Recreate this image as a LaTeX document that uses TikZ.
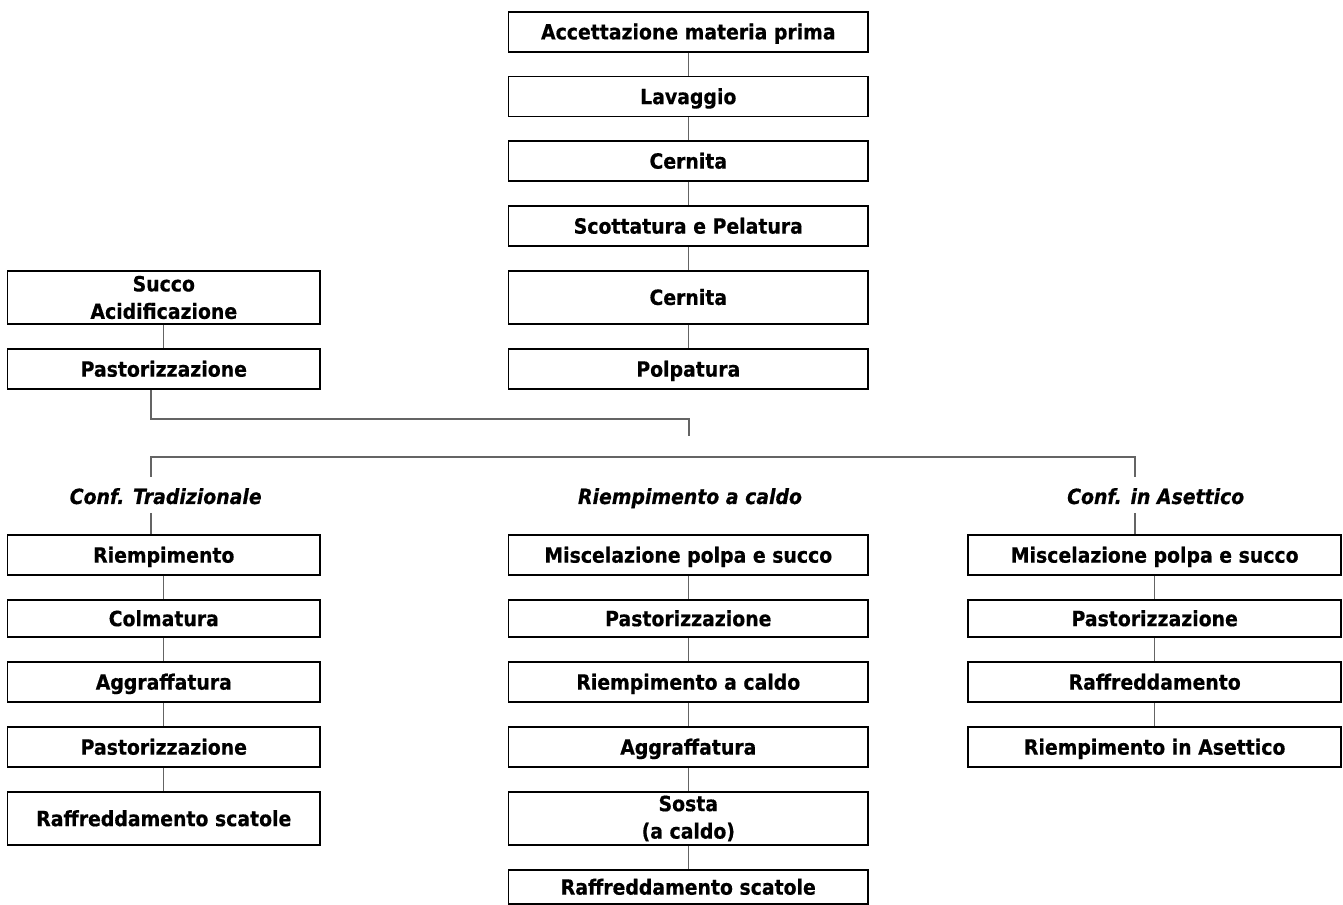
\documentclass[tikz,border=0pt]{standalone}
\usepackage{fontspec}
\setmainfont{DejaVu Sans}[FakeStretch=0.9,
  BoldFeatures={FakeBold=0.5},
  BoldItalicFeatures={FakeBold=0.5}]
\begin{document}
\definecolor{linkgray}{RGB}{100,100,100}
\begin{tikzpicture}[x=0.025cm,y=-0.025cm,
  box/.style={draw=black,line width=1.4pt,rectangle,inner sep=0pt,align=center,
    font=\fontsize{14.9}{19.5}\selectfont\bfseries},
  one/.style={text height=10.9pt,text depth=0pt},
  colL/.style={box,minimum width=7.8125cm},
  colC/.style={box,minimum width=8.9875cm},
  colR/.style={box,minimum width=9.3125cm},
  hA/.style={minimum height=1cm},
  hB/.style={minimum height=0.925cm},
  hC/.style={minimum height=1.325cm},
  hD/.style={minimum height=0.85cm},
  lab/.style={anchor=base,inner sep=0pt,font=\fontsize{14.9}{19.5}\selectfont\bfseries\itshape},
  link/.style={draw=linkgray,line width=0.75pt}]
\useasboundingbox (0,0) rectangle (1343,905);

% main line: raw material to pulping
\node[colC,hA,one] (a1) at (688.3,31.75) {Accettazione materia prima};
\node[colC,hA,one] (a2) at (688.3,96.5) {Lavaggio};
\node[colC,hA,one] (a3) at (688.3,161) {Cernita};
\node[colC,hA,one] (a4) at (688.3,226) {Scottatura e Pelatura};
\node[colC,hC,one] (a5) at (688.3,297.25) {Cernita};
\node[colC,hA,one] (a6) at (688.3,369) {Polpatura};
\foreach \u/\v in {a1/a2,a2/a3,a3/a4,a4/a5,a5/a6}
  \draw[link] (\u.south) -- (\v.north);

% juice line
\node[colL,hC] (s1) at (163.8,297.5) {Succo\\Acidificazione};
\node[colL,hA,one] (s2) at (163.8,369) {Pastorizzazione};
\draw[link] (s1.south) -- (s2.north);

% junction buses
\coordinate (k1) at (689,419);
\coordinate (k2) at (689,436);
\draw[link] ([xshift=-0.32cm]s2.south) |- (k1) -- (k2);
\coordinate (bL) at (151,477);
\coordinate (b1) at (151,457);
\coordinate (b2) at (1135,457);
\coordinate (bR) at (1135,477);
\draw[link] (bL) -- (b1) -- (b2) -- (bR);

% branch titles
\node[lab] (t1) at (165.7,504) {Conf. Tradizionale};
\node[lab] (t2) at (690,504) {Riempimento a caldo};
\node[lab] (t3) at (1155.7,504) {Conf. in Asettico};
\coordinate (u1) at (151,513);
\coordinate (u3) at (1135,513);

% traditional packing
\node[colL,hA,one] (l1) at (163.8,555) {Riempimento};
\node[colL,hB,one] (l2) at (163.8,618.5) {Colmatura};
\node[colL,hA,one] (l3) at (163.8,682) {Aggraffatura};
\node[colL,hA,one] (l4) at (163.8,747) {Pastorizzazione};
\node[colL,hC,one] (l5) at (163.8,818.5) {Raffreddamento scatole};
\draw[link] (u1) -- (l1.north -| u1);
\foreach \u/\v in {l1/l2,l2/l3,l3/l4,l4/l5}
  \draw[link] (\u.south) -- (\v.north);

% hot filling
\node[colC,hA,one] (c1) at (688.3,555) {Miscelazione polpa e succo};
\node[colC,hB,one] (c2) at (688.3,618.5) {Pastorizzazione};
\node[colC,hA,one] (c3) at (688.3,682) {Riempimento a caldo};
\node[colC,hA,one] (c4) at (688.3,747) {Aggraffatura};
\node[colC,hC] (c5) at (688.3,818.5) {Sosta\\(a caldo)};
\node[colC,hD,one] (c6) at (688.3,887) {Raffreddamento scatole};
\foreach \u/\v in {c1/c2,c2/c3,c3/c4,c4/c5,c5/c6}
  \draw[link] (\u.south) -- (\v.north);

% aseptic packing
\node[colR,hA,one] (r1) at (1154.7,555) {Miscelazione polpa e succo};
\node[colR,hB,one] (r2) at (1154.7,618.5) {Pastorizzazione};
\node[colR,hA,one] (r3) at (1154.7,682) {Raffreddamento};
\node[colR,hA,one] (r4) at (1154.7,747) {Riempimento in Asettico};
\draw[link] (u3) -- (r1.north -| u3);
\foreach \u/\v in {r1/r2,r2/r3,r3/r4}
  \draw[link] (\u.south) -- (\v.north);
\end{tikzpicture}
\end{document}
